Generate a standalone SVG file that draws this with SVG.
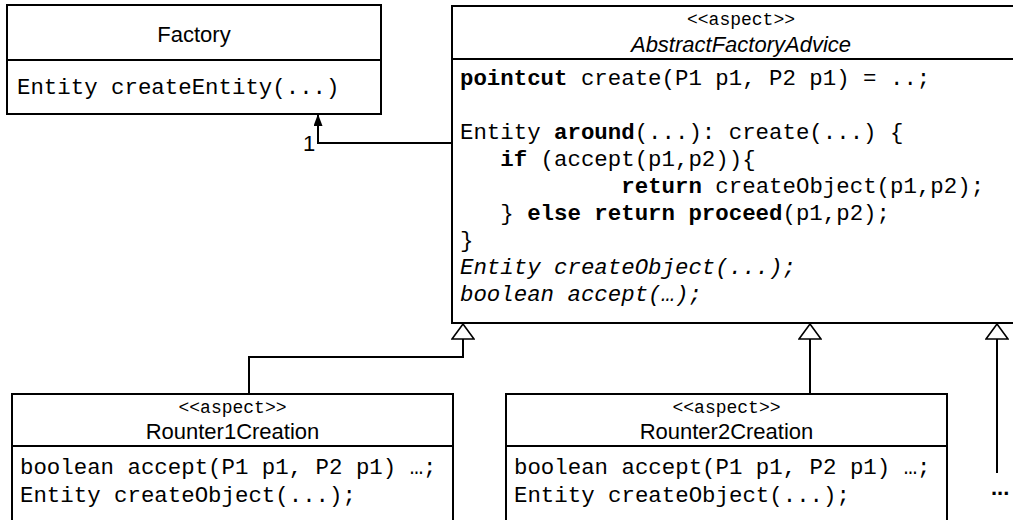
<svg xmlns="http://www.w3.org/2000/svg" width="1013" height="520" viewBox="0 0 1013 520">
<style>
.box{fill:#fff;stroke:#000;stroke-width:2}
.div{stroke:#000;stroke-width:2}
.sans{font-family:"Liberation Sans",Arial,sans-serif;font-size:22px;fill:#000}
.mono{font-family:"Courier New","Liberation Mono",monospace;font-size:22.4px;fill:#000}
.ster{font-family:"Courier New","Liberation Mono",monospace;font-size:18px;fill:#000}
.b{font-weight:bold}
.i{font-style:italic}
.conn{fill:none;stroke:#000;stroke-width:2}
</style>
<defs>
<marker id="gen" markerUnits="userSpaceOnUse" viewBox="-1 -1 17 24" refX="15" refY="11" markerWidth="17" markerHeight="24" orient="auto">
<path d="M0,0 L15,11 L0,22 Z" fill="#fff" stroke="#000" stroke-width="1.6"/>
</marker>
<marker id="assoc" markerUnits="userSpaceOnUse" viewBox="0 0 12 9" refX="12" refY="4.5" markerWidth="12" markerHeight="9" orient="auto">
<path d="M0,0 L12,4.5 L0,9 Z" fill="#000"/>
</marker>
</defs>

<g id="connectors">
<path class="conn" d="M452,143 L318,143 L318,114" marker-end="url(#assoc)"/>
<text class="sans" x="303" y="151">1</text>
<path class="conn" d="M249,394 L249,357 L463,357 L463,324" marker-end="url(#gen)"/>
<path class="conn" d="M810,394 L810,324" marker-end="url(#gen)"/>
<path class="conn" d="M997,473 L997,324" marker-end="url(#gen)"/>
</g>

<g id="factory">
<rect class="box" x="7" y="5" width="374" height="109"/>
<line class="div" x1="7" y1="60" x2="381" y2="60"/>
<text class="sans" x="194" y="42" text-anchor="middle">Factory</text>
<text class="mono" x="17" y="94">Entity createEntity(...)</text>
</g>

<g id="abstractFactoryAdvice">
<rect class="box" x="452" y="6" width="580" height="317"/>
<line class="div" x1="452" y1="59" x2="1032" y2="59"/>
<text class="ster" x="741" y="25" text-anchor="middle">&lt;&lt;aspect&gt;&gt;</text>
<text class="sans i" x="741" y="52" text-anchor="middle">AbstractFactoryAdvice</text>
<text class="mono" x="460" y="85"><tspan class="b">pointcut</tspan> create(P1 p1, P2 p1) = ..;</text>
<text class="mono" x="460" y="139">Entity <tspan class="b">around</tspan>(...): create(...) {</text>
<text class="mono" x="500.3" y="166"><tspan class="b">if</tspan> (accept(p1,p2)){</text>
<text class="mono" x="621.3" y="193"><tspan class="b">return</tspan> createObject(p1,p2);</text>
<text class="mono" x="500.3" y="220">} <tspan class="b">else return proceed</tspan>(p1,p2);</text>
<text class="mono" x="460" y="247">}</text>
<text class="mono i" x="460" y="274">Entity createObject(...);</text>
<text class="mono i" x="460" y="301">boolean accept(…);</text>
</g>

<g id="rounter1Creation">
<rect class="box" x="12" y="394" width="441" height="140"/>
<line class="div" x1="12" y1="446" x2="453" y2="446"/>
<text class="ster" x="232.5" y="413" text-anchor="middle">&lt;&lt;aspect&gt;&gt;</text>
<text class="sans" x="232.5" y="439" text-anchor="middle">Rounter1Creation</text>
<text class="mono" x="20" y="474">boolean accept(P1 p1, P2 p1) …;</text>
<text class="mono" x="20" y="502">Entity createObject(...);</text>
</g>

<g id="rounter2Creation">
<rect class="box" x="506" y="394" width="441" height="140"/>
<line class="div" x1="506" y1="446" x2="947" y2="446"/>
<text class="ster" x="726.5" y="413" text-anchor="middle">&lt;&lt;aspect&gt;&gt;</text>
<text class="sans" x="726.5" y="439" text-anchor="middle">Rounter2Creation</text>
<text class="mono" x="514" y="474">boolean accept(P1 p1, P2 p1) …;</text>
<text class="mono" x="514" y="502">Entity createObject(...);</text>
</g>

<g id="more">
<text class="sans b" x="991" y="495">...</text>
</g>
</svg>
